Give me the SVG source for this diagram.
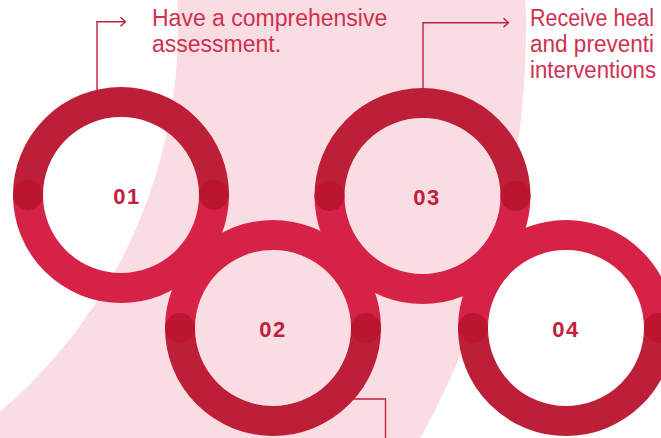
<svg xmlns="http://www.w3.org/2000/svg" width="661" height="438" viewBox="0 0 661 438">
  <style>
    .bg { fill: #f9dde3; fill-rule: evenodd; }
    .dark { fill: none; stroke: #be1f38; stroke-width: 30; }
    .bright { fill: none; stroke: #d72248; stroke-width: 30; }
    .dot { fill: #bb1530; }
    .num { font-family: "Liberation Sans", Arial, sans-serif; font-weight: bold; font-size: 22px; fill: #c0213c; text-anchor: middle; letter-spacing: 1.5px; }
    .label { font-family: "Liberation Sans", Arial, sans-serif; font-size: 23px; fill: #d0304f; }
    .conn { fill: none; stroke: #c41f3c; stroke-width: 1.4; }
  </style>
  <rect width="661" height="438" fill="#ffffff"/>
  <path class="bg" d="M -1180,27 a 853,853 0 1,0 1706,0 a 853,853 0 1,0 -1706,0 Z M -832,27 a 505,505 0 1,0 1010,0 a 505,505 0 1,0 -1010,0 Z"/>

  <g id="connectors">
    <polyline class="conn" points="97,95 97,21.7 125,21.7"/>
    <polyline class="conn" points="120.5,17.2 125.5,21.7 120.5,26.2"/>
    <polyline class="conn" points="423,95 423,22.7 508,22.7"/>
    <polyline class="conn" points="503.5,18.2 508.5,22.7 503.5,27.2"/>
    <polyline class="conn" points="350,399 385.5,399 385.5,440"/>
  </g>

  <g id="node-01">
    <path class="dark" d="M 28,195 A 93,93 0 0 1 214,195"/>
    <path class="bright" d="M 214,195 A 93,93 0 0 1 28,195"/>
    <circle class="dot" cx="28" cy="195" r="15"/>
    <circle class="dot" cx="214" cy="195" r="15"/>
    <text class="num" x="127" y="204">01</text>
  </g>

  <g id="node-03">
    <path class="dark" d="M 329.5,196 A 93,93 0 0 1 515.5,196"/>
    <path class="bright" d="M 515.5,196 A 93,93 0 0 1 329.5,196"/>
    <circle class="dot" cx="329.5" cy="196" r="15"/>
    <circle class="dot" cx="515.5" cy="196" r="15"/>
    <text class="num" x="427" y="205">03</text>
  </g>

  <g id="node-02">
    <path class="bright" d="M 180,328 A 93,93 0 0 1 366,328"/>
    <path class="dark" d="M 366,328 A 93,93 0 0 1 180,328"/>
    <circle class="dot" cx="180" cy="328" r="15"/>
    <circle class="dot" cx="366" cy="328" r="15"/>
    <text class="num" x="273" y="337">02</text>
  </g>

  <g id="node-04">
    <path class="bright" d="M 473,328 A 93,93 0 0 1 659,328"/>
    <path class="dark" d="M 659,328 A 93,93 0 0 1 473,328"/>
    <circle class="dot" cx="473" cy="328" r="15"/>
    <circle class="dot" cx="659" cy="328" r="15"/>
    <text class="num" x="566" y="337">04</text>
  </g>

  <g id="label-01">
    <text class="label" x="152" y="26">Have a comprehensive</text>
    <text class="label" x="152" y="52">assessment.</text>
  </g>

  <g id="label-03">
    <text class="label" x="530" y="26" textLength="124" lengthAdjust="spacingAndGlyphs">Receive heal</text>
    <text class="label" x="530" y="52" textLength="124" lengthAdjust="spacingAndGlyphs">and preventi</text>
    <text class="label" x="530" y="78" textLength="126" lengthAdjust="spacingAndGlyphs">interventions</text>
  </g>
</svg>
